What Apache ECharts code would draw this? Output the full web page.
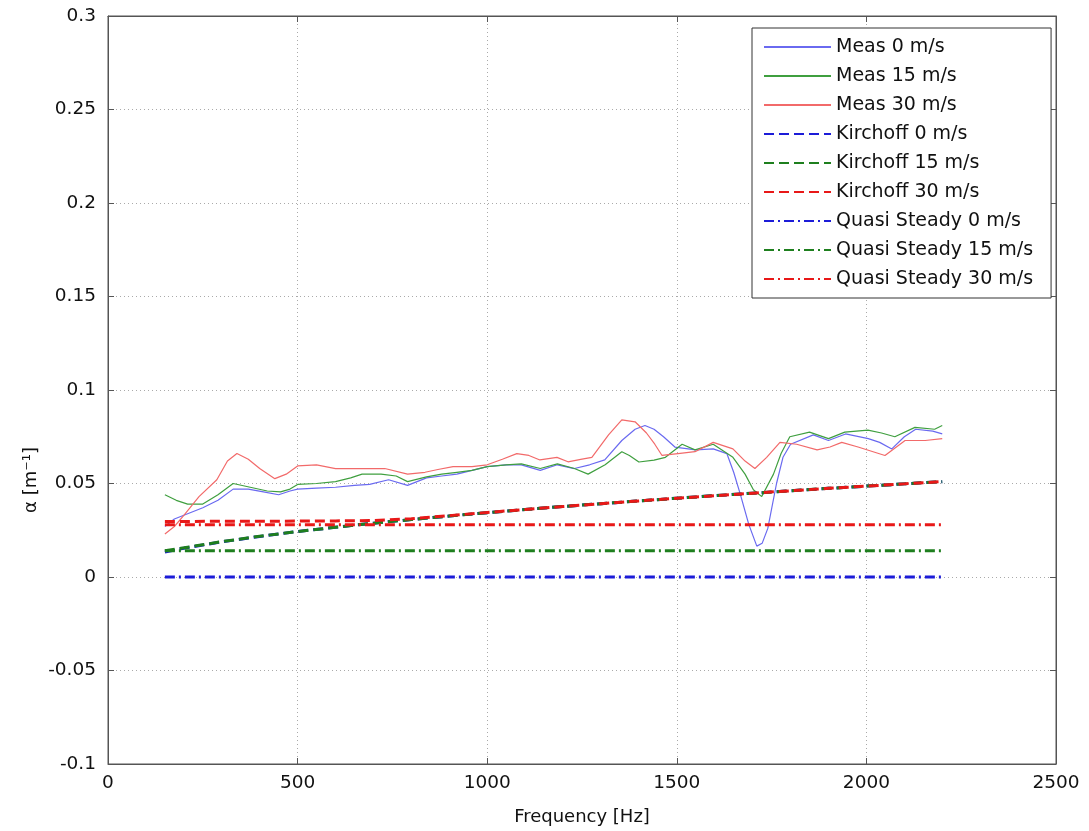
<!DOCTYPE html>
<html>
<head>
<meta charset="utf-8">
<script src="https://cdn.jsdelivr.net/npm/echarts@6/dist/echarts.min.js"></script>
<style>html,body{margin:0;padding:0;background:#fff;}#c{width:1089px;height:831px;}</style>
</head>
<body>
<div id="c"></div>
<script>
// ---- data ----
var xTicks = [0, 500, 1000, 1500, 2000, 2500];
var yTicks = [-0.1, -0.05, 0, 0.05, 0.1, 0.15, 0.2, 0.25, 0.3];

var meas0Freq = [150,175,200,250,290,330,370,410,450,480,500,550,600,650,690,740,790,840,880,920,960,1000,1050,1090,1140,1185,1230,1270,1310,1355,1390,1416,1440,1465,1495,1550,1596,1632,1650,1667,1690,1711,1725,1740,1763,1780,1800,1860,1900,1945,2005,2035,2067,2100,2130,2175,2200];
var meas0Val  = [0.027,0.031,0.033,0.037,0.041,0.047,0.047,0.0455,0.044,0.046,0.047,0.0475,0.048,0.049,0.0495,0.052,0.049,0.053,0.054,0.055,0.057,0.059,0.060,0.060,0.057,0.060,0.058,0.060,0.0626,0.073,0.079,0.081,0.079,0.075,0.0695,0.068,0.0685,0.066,0.056,0.0446,0.028,0.0165,0.018,0.026,0.050,0.064,0.071,0.076,0.073,0.0765,0.074,0.072,0.0685,0.075,0.079,0.078,0.0765];

var meas15Freq = [150,180,210,250,290,330,375,420,455,480,500,550,600,640,670,720,760,790,840,880,920,960,1000,1050,1090,1140,1185,1230,1266,1311,1355,1375,1400,1440,1470,1514,1548,1596,1648,1680,1702,1724,1755,1775,1798,1850,1900,1943,2004,2040,2075,2128,2180,2200];
var meas15Val  = [0.044,0.041,0.039,0.039,0.044,0.050,0.048,0.046,0.0455,0.047,0.0495,0.050,0.051,0.053,0.055,0.055,0.054,0.051,0.0535,0.055,0.056,0.057,0.059,0.060,0.0605,0.058,0.0605,0.058,0.055,0.060,0.067,0.065,0.0615,0.0625,0.064,0.071,0.068,0.071,0.064,0.055,0.0467,0.043,0.055,0.066,0.075,0.0775,0.074,0.0775,0.0785,0.077,0.075,0.080,0.079,0.081];

var meas30Freq = [150,175,200,240,287,315,340,370,400,440,470,500,550,600,670,730,790,836,870,910,960,1000,1040,1078,1110,1139,1184,1213,1250,1276,1320,1355,1390,1420,1442,1461,1503,1548,1596,1648,1680,1706,1737,1772,1816,1870,1904,1935,1978,2049,2102,2155,2200];
var meas30Val  = [0.023,0.027,0.033,0.043,0.052,0.062,0.066,0.063,0.058,0.0526,0.055,0.0594,0.060,0.058,0.058,0.058,0.055,0.056,0.0575,0.059,0.059,0.060,0.063,0.066,0.065,0.0626,0.064,0.0616,0.063,0.064,0.076,0.084,0.083,0.077,0.071,0.065,0.066,0.067,0.072,0.0685,0.062,0.058,0.064,0.072,0.071,0.068,0.0695,0.072,0.0695,0.065,0.073,0.073,0.074];

var kirchFreq = [150,200,300,400,500,600,700,800,900,1000,1100,1200,1300,1400,1500,1600,1700,1800,1900,2000,2100,2200];
var kirch0Val  = [0.0133,0.0154,0.0188,0.0217,0.0243,0.0266,0.0288,0.0307,0.0326,0.0344,0.0361,0.0377,0.0392,0.0407,0.0421,0.0435,0.0448,0.0461,0.0474,0.0486,0.0498,0.0510];
var kirch15Val = [0.0140,0.0156,0.0189,0.0218,0.0243,0.0266,0.0288,0.0307,0.0326,0.0344,0.0361,0.0377,0.0392,0.0407,0.0421,0.0435,0.0448,0.0461,0.0474,0.0486,0.0498,0.0510];
var kirch30Val = [0.0297,0.0297,0.0298,0.0298,0.0299,0.0300,0.0302,0.0312,0.0328,0.0345,0.0361,0.0377,0.0392,0.0407,0.0421,0.0435,0.0448,0.0461,0.0474,0.0486,0.0498,0.0510];

var qsFreq = [150, 2200];
var qs0Val  = [0, 0];
var qs15Val = [0.014, 0.014];
var qs30Val = [0.028, 0.028];

var names = ['Meas 0 m/s','Meas 15 m/s','Meas 30 m/s','Kirchoff 0 m/s','Kirchoff 15 m/s','Kirchoff 30 m/s','Quasi Steady 0 m/s','Quasi Steady 15 m/s','Quasi Steady 30 m/s'];

// ---- chart ----
function pairs(fx, vy) { return fx.map(function (f, i) { return [f, vy[i]]; }); }
var FONT = 'DejaVu Sans';
var dashK = [10, 5];
var dashQ = [10, 4, 2, 4];

function mk(name, fx, vy, color, width, type, z) {
  return {
    name: name, type: 'line', data: pairs(fx, vy), symbol: 'none', showSymbol: false,
    smooth: false, z: z, animation: false,
    lineStyle: { color: color, width: width, type: type },
    itemStyle: { color: color }
  };
}

var series = [
  mk(names[0], meas0Freq, meas0Val, '#6a6af0', 1.2, 'solid', 3),
  mk(names[1], meas15Freq, meas15Val, '#3f9f3f', 1.2, 'solid', 3),
  mk(names[2], meas30Freq, meas30Val, '#f26a6a', 1.2, 'solid', 3),
  mk(names[3], kirchFreq, kirch0Val, '#1c1cd8', 3, dashK, 4),
  mk(names[4], kirchFreq, kirch15Val, '#1e7f1e', 3, dashK, 4),
  mk(names[5], kirchFreq, kirch30Val, '#e81818', 3, dashK, 4),
  mk(names[6], qsFreq, qs0Val, '#1c1cd8', 3, dashQ, 4),
  mk(names[7], qsFreq, qs15Val, '#1e7f1e', 3, dashQ, 4),
  mk(names[8], qsFreq, qs30Val, '#e81818', 3, dashQ, 4)
];

var chart = echarts.init(document.getElementById('c'), null, { renderer: 'canvas' });
var axisCommon = {
  axisLine: { show: true, onZero: false, lineStyle: { color: '#555', width: 1 } },
  axisTick: { show: true, inside: true, length: 6, lineStyle: { color: '#555' } }
};
chart.setOption({
  animation: false,
  backgroundColor: '#fff',
  textStyle: { fontFamily: FONT },
  grid: { left: 108, right: 33, top: 16, bottom: 62, show: true, borderColor: '#555', borderWidth: 1 },
  legend: {
    data: names, orient: 'vertical', left: 752, top: 28,
    padding: [9, 18, 9, 11], itemGap: 9, itemWidth: 67, itemHeight: 14,
    backgroundColor: '#fff', borderColor: '#333', borderWidth: 1, borderRadius: 0,
    itemStyle: { color: 'rgba(0,0,0,0)', borderColor: 'rgba(0,0,0,0)', borderWidth: 0, opacity: 0 },
    textStyle: { fontFamily: FONT, fontSize: 19, color: '#111', lineHeight: 20 },
    selectedMode: false
  },
  xAxis: [
    Object.assign({
      type: 'value', min: xTicks[0], max: xTicks[xTicks.length - 1], interval: 500,
      name: 'Frequency [Hz]', nameLocation: 'middle', nameGap: 44,
      nameTextStyle: { fontFamily: FONT, fontSize: 18, color: '#111' },
      axisLabel: { fontFamily: FONT, fontSize: 18.5, color: '#111', margin: 10,
        formatter: function (v) { return String(Math.round(v)); } },
      splitLine: { show: true, lineStyle: { color: '#aaa', type: [1, 3], width: 1 } }
    }, axisCommon),
    Object.assign({
      type: 'value', position: 'top', min: xTicks[0], max: xTicks[xTicks.length - 1], interval: 500,
      axisLabel: { show: false }, splitLine: { show: false }
    }, axisCommon)
  ],
  yAxis: [
    Object.assign({
      type: 'value', min: yTicks[0], max: yTicks[yTicks.length - 1], interval: 0.05,
      axisLabel: { fontFamily: FONT, fontSize: 18.5, color: '#111', margin: 12,
        formatter: function (v) { return String(parseFloat(v.toFixed(2))); } },
      splitLine: { show: true, lineStyle: { color: '#aaa', type: [1, 3], width: 1 } }
    }, axisCommon),
    Object.assign({
      type: 'value', position: 'right', min: yTicks[0], max: yTicks[yTicks.length - 1], interval: 0.05,
      axisLabel: { show: false }, splitLine: { show: false }
    }, axisCommon)
  ],
  graphic: [{
    type: 'text', x: 31, y: 480, rotation: Math.PI / 2, z: 10,
    style: { text: 'α [m⁻¹]', fontFamily: FONT, fontSize: 18, fill: '#111', align: 'center', verticalAlign: 'middle' }
  }],
  series: series
});
</script>
</body>
</html>
